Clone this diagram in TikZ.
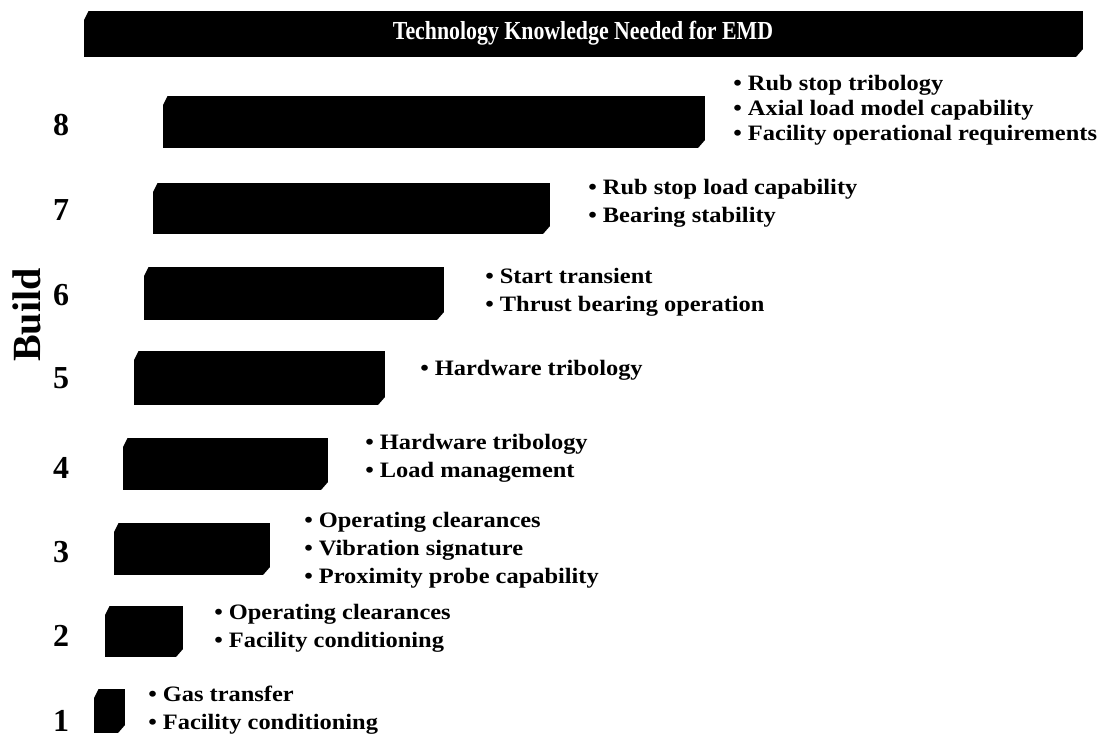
\documentclass[tikz,border=0pt]{standalone}
\usepackage{fontspec}
\setmainfont{Liberation Serif}
\newfontfamily\headfont[FakeStretch=0.84]{Liberation Serif}
\newfontfamily\needfont[FakeStretch=1.11]{Liberation Serif}
\usetikzlibrary{positioning}

\tikzstyle{bar} = [rectangle, inner sep=0pt, draw=white, line width=0.1pt, path picture={\fill[black] ([yshift=-12pt]path picture bounding box.north west) -- ([xshift=6pt]path picture bounding box.north west) -- (path picture bounding box.north east) -- ([yshift=8pt]path picture bounding box.south east) -- ([xshift=-7pt]path picture bounding box.south east) -- (path picture bounding box.south west) -- cycle;}]
\tikzstyle{head_bar} = [bar, minimum width=1000pt, minimum height=47pt, text=white, font=\headfont\bfseries\fontsize{26}{30}\selectfont]
\tikzstyle{build_no} = [inner sep=0pt, font=\bfseries\fontsize{32}{36}\selectfont]
\tikzstyle{need} = [align=left, inner sep=0pt, font=\needfont\bfseries\fontsize{22}{28}\selectfont]

\begin{document}
\begin{tikzpicture}[x=1pt, y=-1pt]
		\useasboundingbox (0,0) rectangle (1102,740);
		\node[head_bar] (head) at (583,33.5) {Technology Knowledge Needed for EMD};
		
		\node[font=\bfseries\fontsize{40}{44}\selectfont, rotate=90, inner sep=0pt] (build) at (27,315) {Build};
		
		\node[bar, minimum width=543pt, minimum height=53pt] (bar_8) at (433.5,121.5) {};
		\node[bar, minimum width=398pt, minimum height=52pt] (bar_7) at (351,208) {};
		\node[bar, minimum width=301pt, minimum height=54pt] (bar_6) at (293.5,293) {};
		\node[bar, minimum width=252pt, minimum height=55pt] (bar_5) at (259,377.5) {};
		\node[bar, minimum width=206pt, minimum height=53pt] (bar_4) at (225,463.5) {};
		\node[bar, minimum width=157pt, minimum height=53pt] (bar_3) at (191.5,548.5) {};
		\node[bar, minimum width=79pt, minimum height=52pt] (bar_2) at (143.5,631) {};
		\node[bar, minimum width=32pt, minimum height=45pt] (bar_1) at (109,710.5) {};
		
		\node[build_no] (no_8) at (61,125) {8};
		\node[build_no] (no_7) at (61,210) {7};
		\node[build_no] (no_6) at (61,295) {6};
		\node[build_no] (no_5) at (61,378) {5};
		\node[build_no] (no_4) at (61,468) {4};
		\node[build_no] (no_3) at (61,552) {3};
		\node[build_no] (no_2) at (61,636) {2};
		\node[build_no] (no_1) at (61,721) {1};
		
		\node[need, font=\needfont\bfseries\fontsize{22}{25}\selectfont, right=28pt of bar_8, yshift=11.5pt] (need_8) {\textbullet\ Rub stop tribology\\ \textbullet\ Axial load model capability\\ \textbullet\ Facility operational requirements};
		\node[need, right=38pt of bar_7, yshift=5pt] (need_7) {\textbullet\ Rub stop load capability\\ \textbullet\ Bearing stability};
		\node[need, right=41pt of bar_6, yshift=1pt] (need_6) {\textbullet\ Start transient\\ \textbullet\ Thrust bearing operation};
		\node[need, right=35pt of bar_5, yshift=7pt] (need_5) {\textbullet\ Hardware tribology};
		\node[need, right=37pt of bar_4, yshift=5pt] (need_4) {\textbullet\ Hardware tribology\\ \textbullet\ Load management};
		\node[need, right=34pt of bar_3, yshift=-2pt] (need_3) {\textbullet\ Operating clearances\\ \textbullet\ Vibration signature\\ \textbullet\ Proximity probe capability};
		\node[need, right=31pt of bar_2, yshift=3pt] (need_2) {\textbullet\ Operating clearances\\ \textbullet\ Facility conditioning};
		\node[need, right=23pt of bar_1, yshift=0pt] (need_1) {\textbullet\ Gas transfer\\ \textbullet\ Facility conditioning};
\end{tikzpicture}
\end{document}
